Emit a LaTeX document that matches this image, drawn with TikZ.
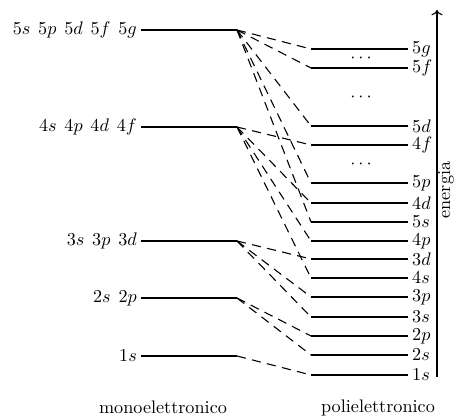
\documentclass[tikz,border=0pt]{standalone}
\usetikzlibrary{arrows.meta}
\newcommand{\gsp}{\hspace{4.3pt}}
\begin{document}
\begin{tikzpicture}[x=0.55pt,y=-0.55pt,
  level/.style={line width=0.6pt},
  link/.style={line width=0.6pt, dash pattern=on 5pt off 3.5pt},
  llab/.style={anchor=east, inner sep=1pt},
  rlab/.style={anchor=west, inner sep=1pt},
  dotsnode/.style={inner sep=0pt}]
\useasboundingbox (0,0) rectangle (455,417);
% left (one-electron) levels
\coordinate (L5-w) at (141,30);  \coordinate (L5-e) at (237,30);
\coordinate (L4-w) at (141,127); \coordinate (L4-e) at (237,127);
\coordinate (L3-w) at (141,241); \coordinate (L3-e) at (237,241);
\coordinate (L2-w) at (141,298); \coordinate (L2-e) at (237,298);
\coordinate (L1-w) at (141,356); \coordinate (L1-e) at (237,356);
\foreach \n in {L5,L4,L3,L2,L1} \draw[level] (\n-w) -- (\n-e);
\node[llab] (L5lab) at (139,30)  {$5s$\gsp$5p$\gsp$5d$\gsp$5f$\gsp$5g$};
\node[llab] (L4lab) at (139,127) {$4s$\gsp$4p$\gsp$4d$\gsp$4f$};
\node[llab] (L3lab) at (139,241) {$3s$\gsp$3p$\gsp$3d$};
\node[llab] (L2lab) at (139,298) {$2s$\gsp$2p$};
\node[llab] (L1lab) at (139,356) {$1s$};
% right (many-electron) levels
\foreach \n/\y in {5g/49,5f/68,5d/126,4f/145,5p/183,4d/203,5s/222,4p/241,3d/259,4s/278,3p/297,3s/317,2p/336,2s/355,1s/375}{
  \coordinate (R\n-w) at (311,\y);
  \coordinate (R\n-e) at (408,\y);
  \draw[level] (R\n-w) -- (R\n-e);
  \node[rlab] (R\n-lab) at (410,\y) {$\n$};
}
\node[dotsnode] (d1) at (361,58)  {$\cdots$};
\node[dotsnode] (d2) at (361,97)  {$\cdots$};
\node[dotsnode] (d3) at (361,164) {$\cdots$};
% connectors
\foreach \a/\b in {L5/5g,L5/5f,L5/5d,L5/5p,L5/5s,L4/4f,L4/4d,L4/4p,L4/4s,L3/3d,L3/3p,L3/3s,L2/2p,L2/2s,L1/1s}
  \draw[link] (\a-e) -- (R\b-w);
% energy axis
\coordinate (ebot) at (437,377);
\coordinate (etop) at (437,10);
\draw[level,->] (ebot) -- (etop);
\node[rotate=90,inner sep=1pt] (elab) at (446,190) {energia};
% captions
\node (mono) at (163,407) {monoelettronico};
\node (poli) at (378,408) {polielettronico};
\end{tikzpicture}
\end{document}
